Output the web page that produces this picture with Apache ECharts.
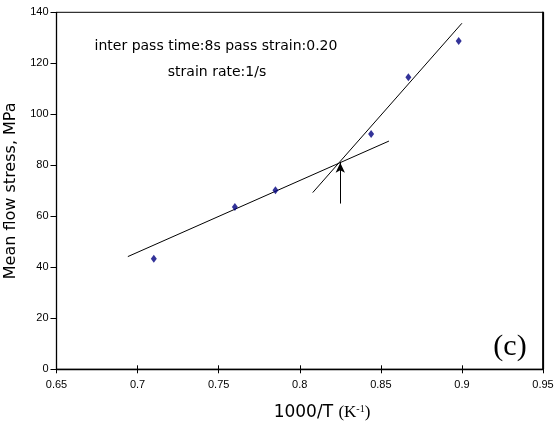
<!DOCTYPE html>
<html>
<head>
<meta charset="utf-8">
<script src="https://cdn.jsdelivr.net/npm/echarts@6/dist/echarts.min.js"></script>
<style>html,body{margin:0;padding:0;background:#fff;overflow:hidden}#c{width:554px;height:430px}</style>
</head>
<body>
<div id="c"></div>
<script>
// Data
var pointsX = [0.710, 0.760, 0.785, 0.844, 0.867, 0.898];
var pointsY = [43.4, 63.6, 70.2, 92.3, 114.5, 128.7];
var lineLowX = [0.694, 0.855];
var lineLowY = [44.2, 89.5];
var lineHighX = [0.808, 0.900];
var lineHighY = [69.3, 135.7];
var arrowX = [0.825, 0.825];
var arrowY = [65, 81];
var xTicks = [0.65, 0.95, 0.05];
var yTicks = [0, 140, 20];

function pairs(xs, ys){ return xs.map(function(x,i){ return [x, ys[i]]; }); }

var chart = echarts.init(document.getElementById('c'));
var labelFont = {fontFamily:'Liberation Sans, Arial, sans-serif', fontSize:11, color:'#000'};
chart.setOption({
  animation:false,
  backgroundColor:'#fff',
  grid:{left:56.5, right:11, top:12.3, bottom:60.7, outerBoundsMode:'none', containLabel:false,
    show:true, borderColor:'#000', borderWidth:1, backgroundColor:'transparent'},
  xAxis:[{
    type:'value', min:xTicks[0], max:xTicks[1], interval:xTicks[2],
    axisLine:{onZero:false, lineStyle:{color:'#000', width:1.3}},
    axisTick:{length:4, lineStyle:{color:'#000'}},
    splitLine:{show:false},
    axisLabel:Object.assign({margin:10, formatter:function(v){return String(+v.toFixed(2));}}, labelFont)
  },{
    type:'value', min:xTicks[0], max:xTicks[1], interval:xTicks[2], position:'bottom', offset:0,
    axisLine:{show:false, onZero:false}, axisTick:{inside:true, length:4, lineStyle:{color:'#000'}},
    axisLabel:{show:false}, splitLine:{show:false}
  }],
  yAxis:[{
    type:'value', min:yTicks[0], max:yTicks[1], interval:yTicks[2],
    name:'Mean flow stress, MPa', nameLocation:'middle', nameGap:33,
    nameTextStyle:{fontFamily:'DejaVu Sans, sans-serif', fontSize:16, color:'#000'},
    axisLine:{onZero:false, lineStyle:{color:'#000', width:1.3}},
    axisTick:{length:6, lineStyle:{color:'#000'}},
    splitLine:{show:false},
    axisLabel:Object.assign({margin:8}, labelFont)
  },{
    type:'value', min:yTicks[0], max:yTicks[1], interval:yTicks[2], position:'right',
    axisLine:{show:true, onZero:false, lineStyle:{color:'#000', width:1.5}}, axisTick:{show:false},
    axisLabel:{show:false}, splitLine:{show:false}
  }],
  graphic:[
    {type:'text', style:{text:'inter pass time:8s pass strain:0.20', x:216, y:46, align:'center', verticalAlign:'middle', font:'14px "DejaVu Sans", sans-serif', fill:'#000'}},
    {type:'text', style:{text:'strain rate:1/s', x:217, y:72, align:'center', verticalAlign:'middle', font:'14px "DejaVu Sans", sans-serif', fill:'#000'}},
    {type:'text', style:{text:'(c)', x:510, y:347, align:'center', verticalAlign:'middle', font:'30px "Liberation Serif", "Times New Roman", serif', fill:'#000'}},
    {type:'text', style:{x:322, y:413, align:'center', verticalAlign:'middle',
      text:'{a|1000/T }{b|(K}{s|-1}{b|)}',
      rich:{
        a:{fontFamily:'DejaVu Sans, sans-serif', fontSize:17, fill:'#000'},
        b:{fontFamily:'Liberation Serif, serif', fontSize:17, fill:'#000'},
        s:{fontFamily:'Liberation Serif, serif', fontSize:10, fill:'#000', verticalAlign:'top', padding:[0,0,8,0]}
      }}}
  ],
  series:[
    {type:'line', data:pairs(lineLowX, lineLowY), symbol:'none', lineStyle:{color:'#000', width:1}, z:2},
    {type:'line', data:pairs(lineHighX, lineHighY), symbol:'none', lineStyle:{color:'#000', width:1}, z:2},
    {type:'line', data:[], symbol:'none',
      markLine:{silent:true, symbol:['none','arrow'], symbolSize:[7,10], label:{show:false},
        lineStyle:{color:'#000', width:1, type:'solid'},
        data:[[{coord:[arrowX[0], arrowY[0]]},{coord:[arrowX[1], arrowY[1]]}]]}},
    {type:'line', data:[], symbol:'none',
      markLine:{silent:true, symbol:['none','none'], label:{show:false},
        lineStyle:{color:'#000', width:1.2, type:'solid'},
        data:[{xAxis:xTicks[1]}]}},
    {type:'scatter', data:pairs(pointsX, pointsY), symbol:'diamond', symbolSize:[6,8], itemStyle:{color:'#000080'}, z:3}
  ]
});
</script>
</body>
</html>
